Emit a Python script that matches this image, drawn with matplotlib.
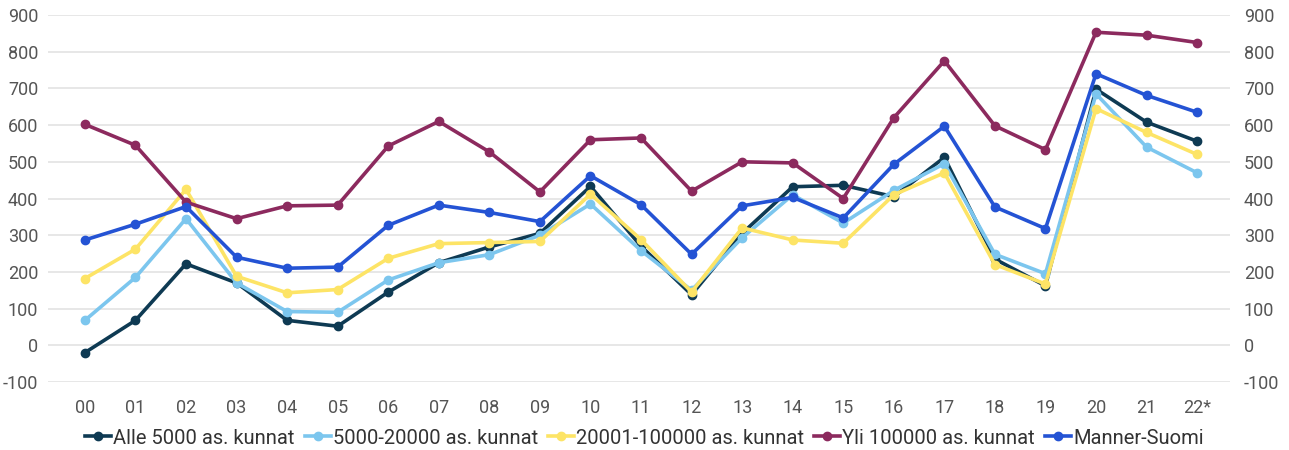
import matplotlib
matplotlib.use("Agg")
import matplotlib.pyplot as plt

plt.rcParams['font.family'] = ['Roboto', 'DejaVu Sans']
plt.rcParams['axes.unicode_minus'] = False

years = ['00', '01', '02', '03', '04', '05', '06', '07', '08', '09', '10', '11',
         '12', '13', '14', '15', '16', '17', '18', '19', '20', '21', '22*']

alle_5000 = [-20, 68, 222, 170, 68, 52, 145, 225, 268, 305, 433, 270,
             138, 305, 432, 436, 405, 512, 235, 162, 698, 608, 556]
k_5000_20000 = [68, 185, 345, 170, 92, 90, 178, 225, 247, 300, 385, 258,
                150, 293, 410, 333, 422, 495, 248, 195, 685, 540, 470]
k_20001_100000 = [182, 262, 425, 188, 143, 152, 237, 277, 280, 283, 412, 288,
                  145, 320, 287, 278, 410, 470, 220, 167, 645, 580, 520]
yli_100000 = [602, 545, 390, 345, 380, 382, 543, 610, 527, 418, 560, 565,
              420, 500, 497, 400, 620, 775, 598, 533, 853, 845, 825]
manner_suomi = [287, 330, 378, 240, 210, 213, 327, 382, 362, 337, 462, 383,
                248, 380, 403, 347, 493, 597, 377, 318, 740, 681, 635]

series = [
    ('Alle 5000 as. kunnat', alle_5000, '#0e3a53'),
    ('5000-20000 as. kunnat', k_5000_20000, '#7cc6ee'),
    ('20001-100000 as. kunnat', k_20001_100000, '#fde466'),
    ('Yli 100000 as. kunnat', yli_100000, '#8c2a5e'),
    ('Manner-Suomi', manner_suomi, '#2453d4'),
]

fig = plt.figure(figsize=(12.89, 4.5), dpi=100)
ax = fig.add_axes([48 / 1289, 1 - 382 / 450, (1230 - 48) / 1289, (382 - 15) / 450])

x = list(range(len(years)))
for name, vals, col in series:
    ax.plot(x, vals, color=col, lw=2.6, marker='o', ms=6, label=name, zorder=3)

ax.set_ylim(-100, 900)
ax.set_xlim(-0.73, 22.65)
ax.set_yticks(range(-100, 901, 100))
ax.set_xticks(x)
ax.set_xticklabels(years)
ax.grid(axis='y', color='#e3e3e3', lw=1.2, zorder=0)
for s in ax.spines.values():
    s.set_visible(False)
ax.tick_params(length=0, labelsize=13, colors='#555555')
ax.tick_params(axis='x', pad=12)
ax.tick_params(axis='y', pad=7)

ax2 = ax.twinx()
ax2.set_ylim(-100, 900)
ax2.set_yticks(range(-100, 901, 100))
for s in ax2.spines.values():
    s.set_visible(False)
ax2.tick_params(length=0, labelsize=13, colors='#555555', pad=10)

handles, labels = ax.get_legend_handles_labels()
fig.legend(handles, labels, loc='center', bbox_to_anchor=(0.50, 1 - 438 / 450),
           ncol=5, frameon=False, fontsize=14.5, handlelength=1.3,
           handletextpad=0.1, columnspacing=0.5, labelcolor='#333333',
           borderaxespad=0, borderpad=0)

fig.savefig('out.png', dpi=100)
